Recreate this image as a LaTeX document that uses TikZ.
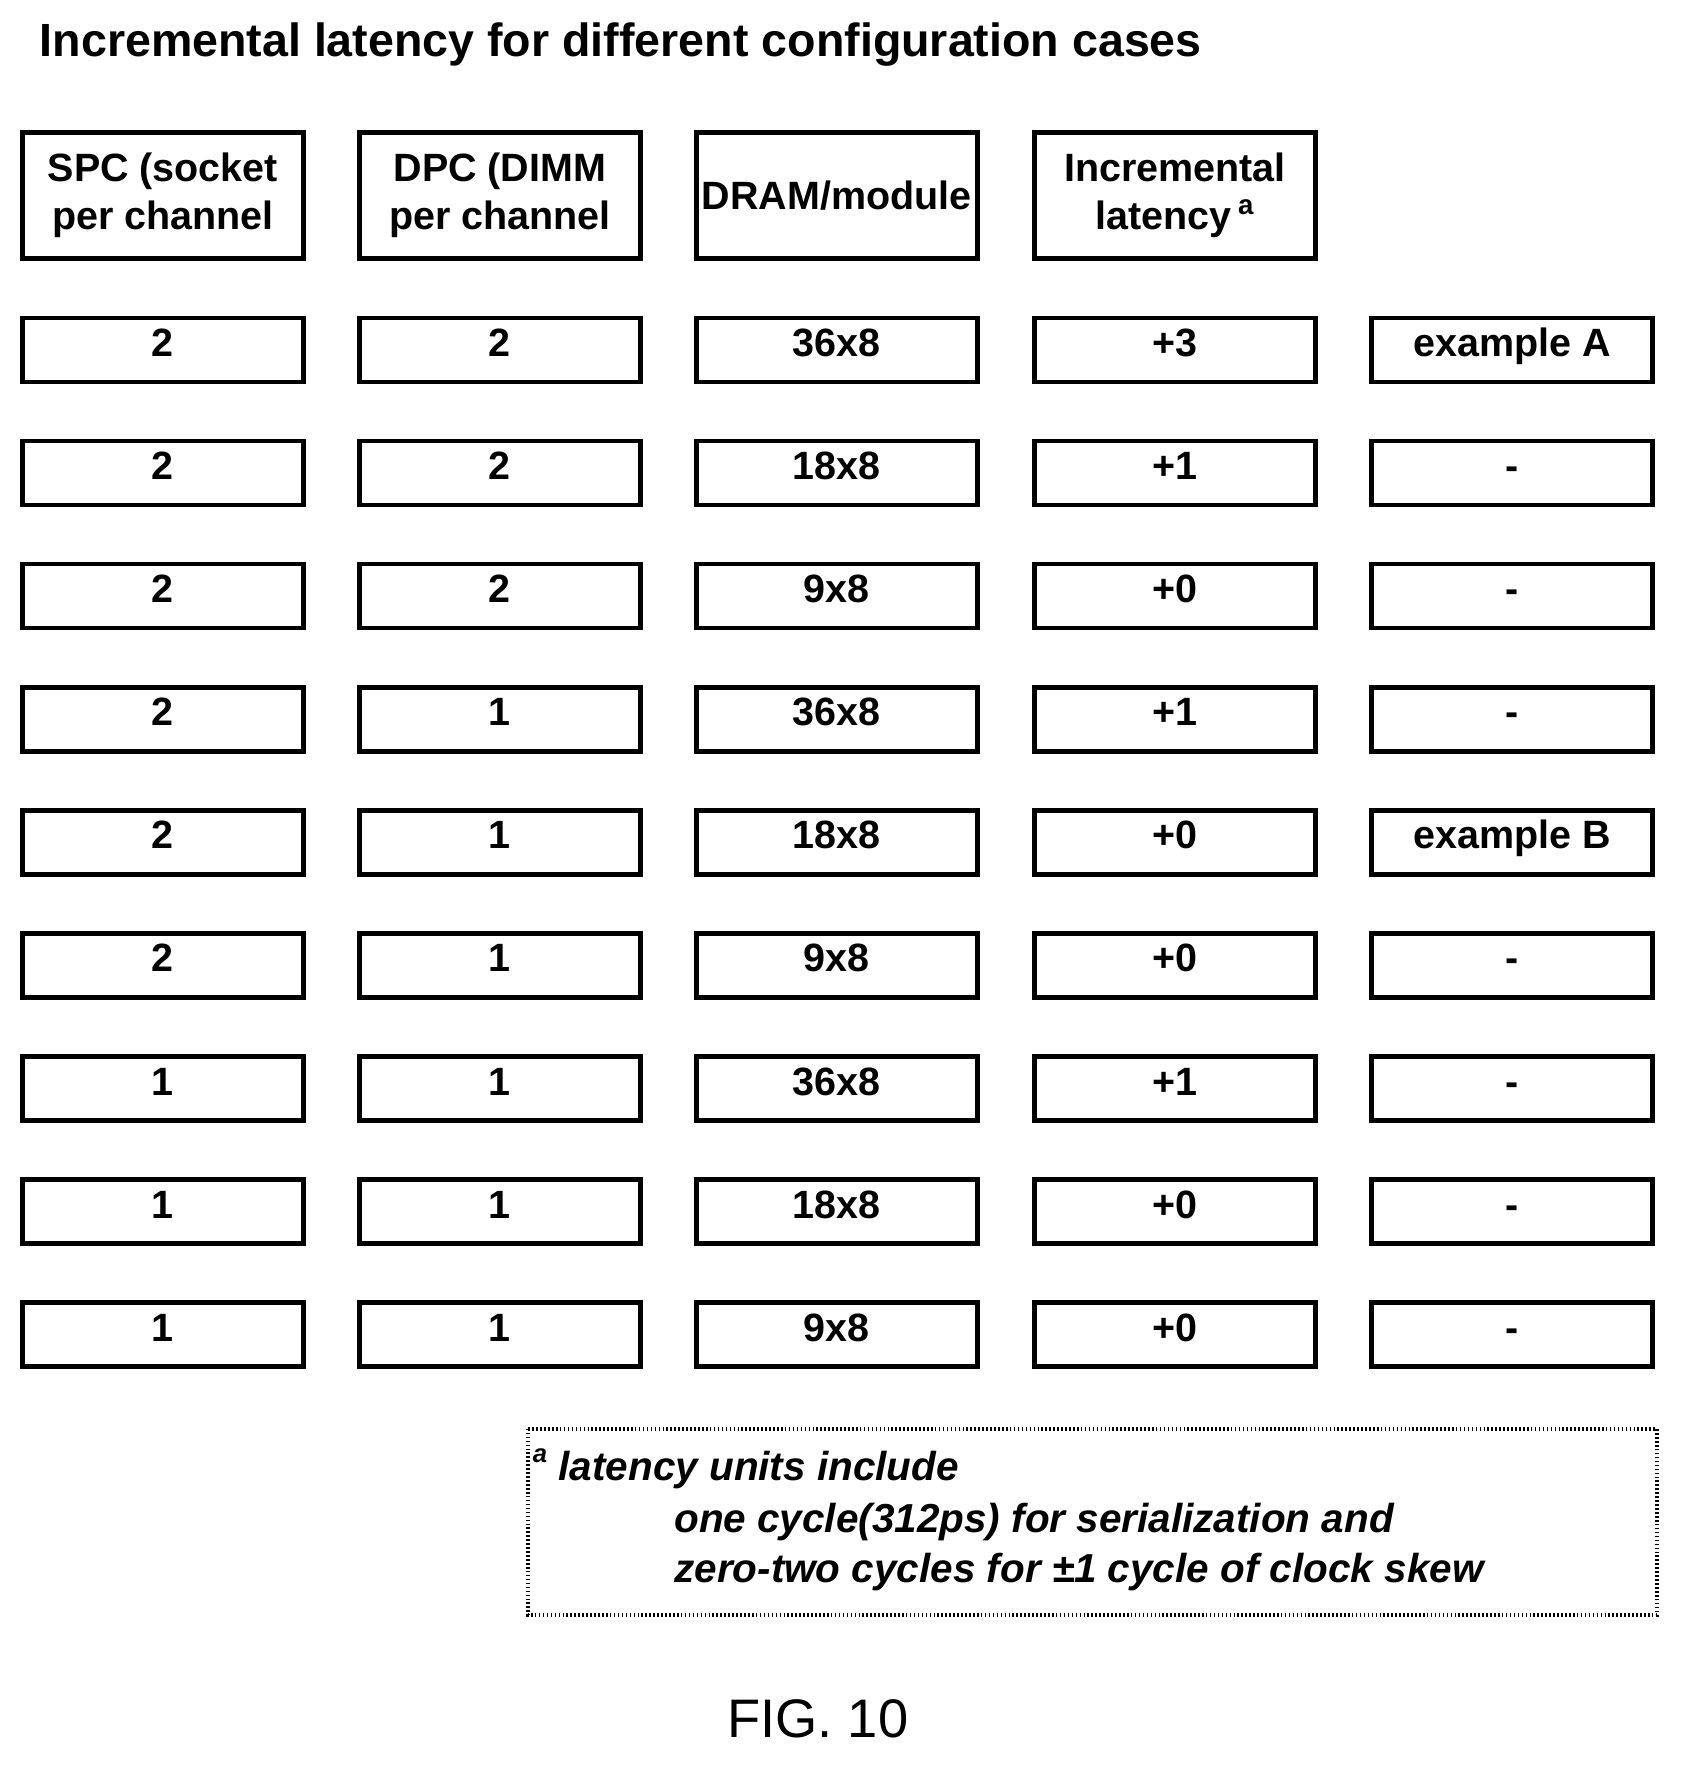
\documentclass[tikz,border=0pt]{standalone}
\usepackage{fontspec}
\setmainfont{Liberation Sans}
\usepackage{tikz}
\usetikzlibrary{positioning}

\tikzset{
    cell/.style={draw, line width=2.4pt, minimum width=5cm, minimum height=1.14cm, inner sep=0pt, text height=1.5ex, text depth=0.25ex, font=\fontsize{20}{24}\selectfont\bfseries},
    headcell/.style={cell, minimum height=2.24cm, text height=, text depth=, align=center},
}

\begin{document}
\begin{tikzpicture}[x=0.02cm, y=-0.02cm]
    \useasboundingbox (0,0) rectangle (1500,1574);

    % Title
    \node[anchor=base west, inner sep=0pt, font=\fontsize{23.6}{28}\selectfont\bfseries] (title) at (35,50) {Incremental latency for different configuration cases};

    % Header row
    \node[headcell] (h1) at (145,174) {SPC (socket\\per channel};
    \node[headcell] (h2) at (445,174) {DPC (DIMM\\per channel};
    \node[headcell] (h3) at (745,174) {DRAM/module};
    \node[headcell] (h4) at (1046,174) {Incremental\\latency\,\textsuperscript{a}};

    % Data rows
    \foreach \spc/\dpc/\dram/\lat/\note [count=\r] in {
        2/2/36x8/+3/example A,
        2/2/18x8/+1/-,
        2/2/9x8/+0/-,
        2/1/36x8/+1/-,
        2/1/18x8/+0/example B,
        2/1/9x8/+0/-,
        1/1/36x8/+1/-,
        1/1/18x8/+0/-,
        1/1/9x8/+0/-} {
        \pgfmathsetmacro{\ypos}{311.5+109.6*(\r-1)}
        \node[cell] (spc\r) at (145,\ypos) {\spc};
        \node[cell] (dpc\r) at (445,\ypos) {\dpc};
        \node[cell] (dram\r) at (745,\ypos) {\dram};
        \node[cell] (lat\r) at (1046,\ypos) {\lat};
        \node[cell] (note\r) at (1346,\ypos) {\note};
    }

    % Footnote
    \draw[line width=2pt, dash pattern=on 0.8pt off 1.2pt] (470,1272) rectangle (1475,1438);
    \node[anchor=base west, inner sep=0pt, font=\fontsize{13}{16}\selectfont\bfseries\itshape] (fnmark) at (474,1302) {a};
    \node[anchor=base west, inner sep=0pt, font=\fontsize{20.5}{26}\selectfont\bfseries\itshape] (fn1) at (497,1318) {latency units include};
    \node[anchor=base west, inner sep=0pt, font=\fontsize{20.5}{26}\selectfont\bfseries\itshape] (fn2) at (600,1364) {one cycle(312ps) for serialization and};
    \node[anchor=base west, inner sep=0pt, font=\fontsize{20.5}{26}\selectfont\bfseries\itshape] (fn3) at (600,1409) {zero-two cycles for ±1 cycle of clock skew};

    % Figure label
    \node[font=\fontsize{27.5}{32}\selectfont] (fig) at (728,1530) {FIG. 10};
\end{tikzpicture}
\end{document}
